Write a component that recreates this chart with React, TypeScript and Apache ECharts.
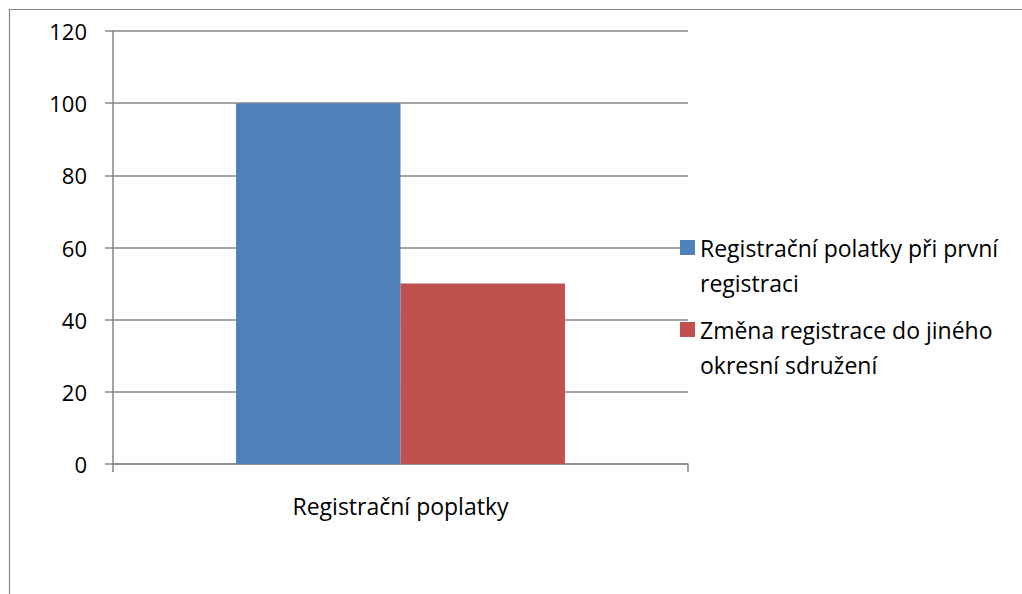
import React, { useEffect, useRef } from "react";
import * as echarts from "echarts";

const categories = ["Registrační poplatky"];
const seriesNames = [
  "Registrační polatky při první registraci",
  "Změna registrace do jiného okresní sdružení",
];
const legendLines = [
  ["Registrační polatky při první", "registraci"],
  ["Změna registrace do jiného", "okresní sdružení"],
];
const firstRegistration = [100];
const registrationChange = [50];
const yTicks = { min: 0, max: 120, interval: 20 };

const FONT = "Open Sans";
const FS = 23;
const FS_Y = 22;
const GRAY = "#878787";

export default function App() {
  const ref = useRef<HTMLDivElement>(null);
  useEffect(() => {
    const chart = echarts.init(ref.current!, null, { renderer: "svg" });
    const legendFor = (i: number, iconCenter: number) => ({
      show: true,
      data: [seriesNames[i]],
      left: 680,
      top: iconCenter - 52.5 + 0.5,
      padding: 0,
      itemWidth: 15,
      itemHeight: 15,
      itemGap: 6,
      icon: "rect",
      formatter: () => "\n" + legendLines[i].join("\n"),
      textStyle: {
        fontFamily: FONT,
        fontSize: FS,
        color: "#000",
        lineHeight: 35,
      },
    });
    chart.setOption({
      animation: false,
      backgroundColor: "#fff",
      textStyle: { fontFamily: FONT },
      graphic: [
        {
          type: "rect",
          shape: { x: 9.5, y: 9.5, width: 1100, height: 700 },
          style: { fill: "none", stroke: GRAY, lineWidth: 1.2 },
          silent: true,
        },
      ],
      grid: { left: 113, top: 31, right: 334, bottom: 130 },
      legend: [legendFor(0, 247), legendFor(1, 329)],
      xAxis: {
        type: "category",
        data: categories,
        axisLine: { lineStyle: { color: GRAY, width: 1.5 } },
        axisTick: { show: true, length: 8, inside: false, lineStyle: { color: GRAY, width: 1.5 } },
        axisLabel: { fontFamily: FONT, fontSize: FS, color: "#000", margin: 30 },
      },
      yAxis: {
        type: "value",
        min: yTicks.min,
        max: yTicks.max,
        interval: yTicks.interval,
        axisLine: { show: true, lineStyle: { color: GRAY, width: 1.5 } },
        axisTick: { show: true, length: 8, lineStyle: { color: GRAY, width: 1.5 } },
        splitLine: { show: true, lineStyle: { color: GRAY, width: 1.5 } },
        axisLabel: { fontFamily: FONT, fontSize: FS_Y, color: "#000", margin: 26 },
      },
      series: [
        {
          name: seriesNames[0],
          type: "bar",
          data: firstRegistration,
          itemStyle: { color: "#4F81BD" },
          barGap: "0%",
          barCategoryGap: "42.8%",
        },
        {
          name: seriesNames[1],
          type: "bar",
          data: registrationChange,
          itemStyle: { color: "#C0504D" },
          barGap: "0%",
          barCategoryGap: "42.8%",
        },
      ],
    });
    return () => chart.dispose();
  }, []);
  return (
    <div
      ref={ref}
      style={{ position: "fixed", left: 0, top: 0, width: 1022, height: 594 }}
    />
  );
}
